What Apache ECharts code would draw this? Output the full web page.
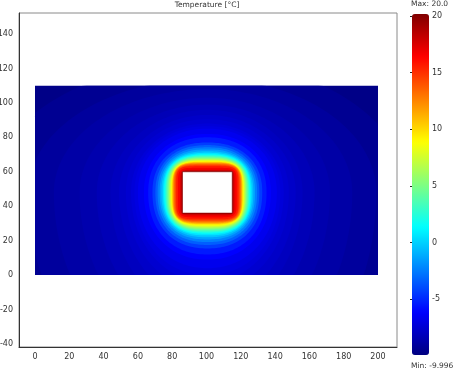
<!DOCTYPE html>
<html>
<head>
<meta charset="utf-8">
<script src="https://cdn.jsdelivr.net/npm/echarts@6/dist/echarts.min.js"></script>
<style>html,body{margin:0;padding:0;background:#fff}#c{width:455px;height:372px}</style>
</head>
<body>
<div id="c"></div>
<script>
// ---- data ----
const chartTitle = 'Temperature [°C]';
const xTicks = [0, 20, 40, 60, 80, 100, 120, 140, 160, 180, 200];
const yTicks = [-40, -20, 0, 20, 40, 60, 80, 100, 120, 140];
const colorTicks = [-5, 0, 5, 10, 15, 20];
const tempMin = -9.996;
const tempMax = 20.0;
const domainX = [0, 200];
const domainY = [0, 110];
const holeX = [86, 115];
const holeY = [36, 60];
// filled isotherm bands, outermost first: band temperature, distance of its outer edge
// from the hole edge (left/right/top/bottom) and how square the contour is
const bandTemp = [-9.8, -9.45, -9.15, -8.875, -8.625, -8.375, -8.125, -7.875, -7.625, -7.375, -7.125, -6.75, -6.25, -5.5,
  -4.5, -3.5, -2.5, -1.5, -0.5, 0.5, 1.5, 2.5, 3.5, 4.5, 5.5, 6.5, 7.5, 8.5, 9.5,
  10.5, 11.5, 12.5, 13.5, 14.5, 15.5, 16.5, 17.5, 18.5, 19.5];
const bandLeft = [250, 112, 90, 75, 60, 50, 42, 37, 33, 30, 28, 26, 22.5, 20,
  17.5, 15.8, 14.5, 13.3, 12.3, 11.4, 10.7, 10, 9.4, 8.8, 8.2, 7.7, 7.2, 6.7, 6.2,
  5.9, 5.6, 5.2, 4.8, 4.2, 3.6, 2.6, 1.4, 0.7, 0.3];
const bandRight = [250, 102, 84, 70, 57, 48, 41, 37, 33, 30, 28, 26, 22.5, 20,
  17.5, 15.8, 14.5, 13.3, 12.3, 11.4, 10.7, 10, 9.4, 8.8, 8.2, 7.7, 7.2, 6.7, 6.2,
  5.9, 5.6, 5.2, 4.8, 4.2, 3.6, 2.6, 1.4, 0.7, 0.3];
const bandTop = [250, 64, 54, 48, 43, 39, 36, 33, 30.5, 28, 26.5, 25, 22, 20,
  17, 15.5, 14.2, 13, 11.9, 11, 10.2, 9.6, 9, 8.4, 7.9, 7.4, 6.9, 6.4, 5.9,
  5.6, 5.3, 4.9, 4.5, 3.9, 3.3, 2.3, 1.2, 0.6, 0.3];
const bandBottom = [250, 155, 115, 95, 80, 69, 60, 52, 45, 40, 36, 32, 27, 24,
  20.5, 18.5, 16.8, 15.3, 14, 12.9, 12, 11.2, 10.5, 9.8, 9.2, 8.6, 8, 7.4, 6.8,
  6.3, 5.9, 5.4, 4.9, 4.3, 3.6, 2.5, 1.4, 0.7, 0.3];
const bandSquare = [2, 2, 2, 2, 2, 2, 2, 2, 2.05, 2.05, 2.1, 2.1, 2.15, 2.2,
  2.25, 2.3, 2.35, 2.4, 2.5, 2.6, 2.7, 2.8, 2.9, 3, 3.1, 3.2, 3.35, 3.5, 3.7,
  3.9, 4.1, 4.4, 4.7, 5.1, 5.8, 7, 10, 16, 30];
const jet = ['#000080', '#0000ff', '#0080ff', '#00ffff', '#80ff80', '#ffff00', '#ff8000', '#ff0000', '#800000'];

// ---- chart ----
const FONT = 'DejaVu Sans';
const TXT = '#333';
const bandData = bandTemp.map((t, i) => [t, bandLeft[i], bandRight[i], bandTop[i], bandBottom[i], bandSquare[i]]);
const holeCx = (holeX[0] + holeX[1]) / 2, holeCy = (holeY[0] + holeY[1]) / 2;
const holeHw = (holeX[1] - holeX[0]) / 2, holeHh = (holeY[1] - holeY[0]) / 2;

function clampX(v) { return Math.max(domainX[0], Math.min(domainX[1], v)); }
function clampY(v) { return Math.max(domainY[0], Math.min(domainY[1], v)); }

function renderBand(params, api) {
  const dl = api.value(1), dr = api.value(2), dt = api.value(3), db = api.value(4), p = api.value(5);
  const N = 48;
  const pts = [];
  for (let q = 0; q < 4; q++) {
    const a = (q === 0 || q === 3) ? holeHw + dr : holeHw + dl;
    const b = (q === 0 || q === 1) ? holeHh + dt : holeHh + db;
    for (let k = 0; k <= N; k++) {
      const th = (q * 90 + 90 * k / N) * Math.PI / 180;
      const c = Math.cos(th), s = Math.sin(th);
      const x = holeCx + a * Math.sign(c) * Math.pow(Math.abs(c), 2 / p);
      const y = holeCy + b * Math.sign(s) * Math.pow(Math.abs(s), 2 / p);
      pts.push(api.coord([clampX(x), clampY(y)]));
    }
  }
  return { type: 'polygon', silent: true, shape: { points: pts }, style: { fill: api.visual('color'), stroke: null } };
}

function renderHole(params, api) {
  const p0 = api.coord([api.value(0), api.value(3)]);
  const p1 = api.coord([api.value(2), api.value(1)]);
  return { type: 'rect', silent: true, shape: { x: p0[0], y: p0[1], width: p1[0] - p0[0], height: p1[1] - p0[1] },
    style: { fill: '#ffffff', stroke: '#8c0000', lineWidth: 0.6 } };
}

const chart = echarts.init(document.getElementById('c'), null, { renderer: 'canvas' });
chart.setOption({
  animation: false,
  backgroundColor: '#ffffff',
  title: [
    { text: chartTitle, left: 207, top: 1, padding: 0, textAlign: 'center',
      textStyle: { fontFamily: FONT, fontSize: 7.5, fontWeight: 'normal', color: TXT } },
    { text: 'Max: ' + tempMax.toFixed(1), left: 411, top: 0, padding: 0,
      textStyle: { fontFamily: FONT, fontSize: 7.5, fontWeight: 'normal', color: TXT } },
    { text: 'Min: ' + tempMin, left: 411, top: 362, padding: 0,
      textStyle: { fontFamily: FONT, fontSize: 7.5, fontWeight: 'normal', color: TXT } }
  ],
  grid: [
    { left: 19, top: 13, width: 378, height: 334, show: true, borderColor: '#8a8a8a', borderWidth: 1,
      backgroundColor: 'transparent', containLabel: false, outerBoundsMode: 'none' },
    { left: 412, top: 16, width: 17, height: 340, show: false, containLabel: false, outerBoundsMode: 'none' }
  ],
  xAxis: [
    { type: 'value', gridIndex: 0, min: -9.33, max: 211.08,
      axisLine: { show: true, onZero: false, lineStyle: { color: '#333', width: 1 } },
      axisTick: { show: false },
      splitLine: { show: false },
      axisLabel: { customValues: xTicks, fontFamily: FONT, fontSize: 8, color: TXT, margin: 6 } },
    { type: 'value', gridIndex: 1, min: 0, max: 1, show: false }
  ],
  yAxis: [
    { type: 'value', gridIndex: 0, min: -41.75, max: 152.2,
      axisLine: { show: true, onZero: false, lineStyle: { color: '#333', width: 1 } },
      axisTick: { show: false },
      splitLine: { show: false },
      axisLabel: { customValues: yTicks, fontFamily: FONT, fontSize: 8, color: TXT, margin: 6 } },
    { type: 'value', gridIndex: 1, position: 'right', min: -10, max: 20,
      axisLine: { show: false },
      axisTick: { show: true, inside: true, length: 2, customValues: colorTicks, lineStyle: { color: '#222' } },
      splitLine: { show: false },
      axisLabel: { customValues: colorTicks, fontFamily: FONT, fontSize: 8, color: TXT, margin: 3 } },
    { type: 'value', gridIndex: 1, position: 'left', min: -10, max: 20,
      axisLine: { show: false },
      axisTick: { show: true, inside: true, length: 2, customValues: colorTicks, lineStyle: { color: '#222' } },
      splitLine: { show: false },
      axisLabel: { show: false } }
  ],
  visualMap: {
    type: 'continuous', seriesIndex: 0, dimension: 0,
    min: tempMin, max: tempMax,
    orient: 'vertical', left: 412, top: 14, itemWidth: 17, itemHeight: 341,
    calculable: false, realtime: false, hoverLink: false,
    text: null, padding: 0,
    inRange: { color: jet },
    textStyle: { color: 'transparent', fontSize: 1 }
  },
  series: [
    { type: 'custom', coordinateSystem: 'cartesian2d', xAxisIndex: 0, yAxisIndex: 0,
      renderItem: renderBand, data: bandData, encode: { x: 1, y: 3 }, silent: true, z: 2 },
    { type: 'custom', coordinateSystem: 'cartesian2d', xAxisIndex: 0, yAxisIndex: 0,
      renderItem: renderHole, data: [[holeX[0], holeY[0], holeX[1], holeY[1]]], encode: { x: [0, 2], y: [1, 3] }, silent: true, z: 3 },
    { type: 'line', xAxisIndex: 1, yAxisIndex: 1, data: [], silent: true }
  ]
});
</script>
</body>
</html>
